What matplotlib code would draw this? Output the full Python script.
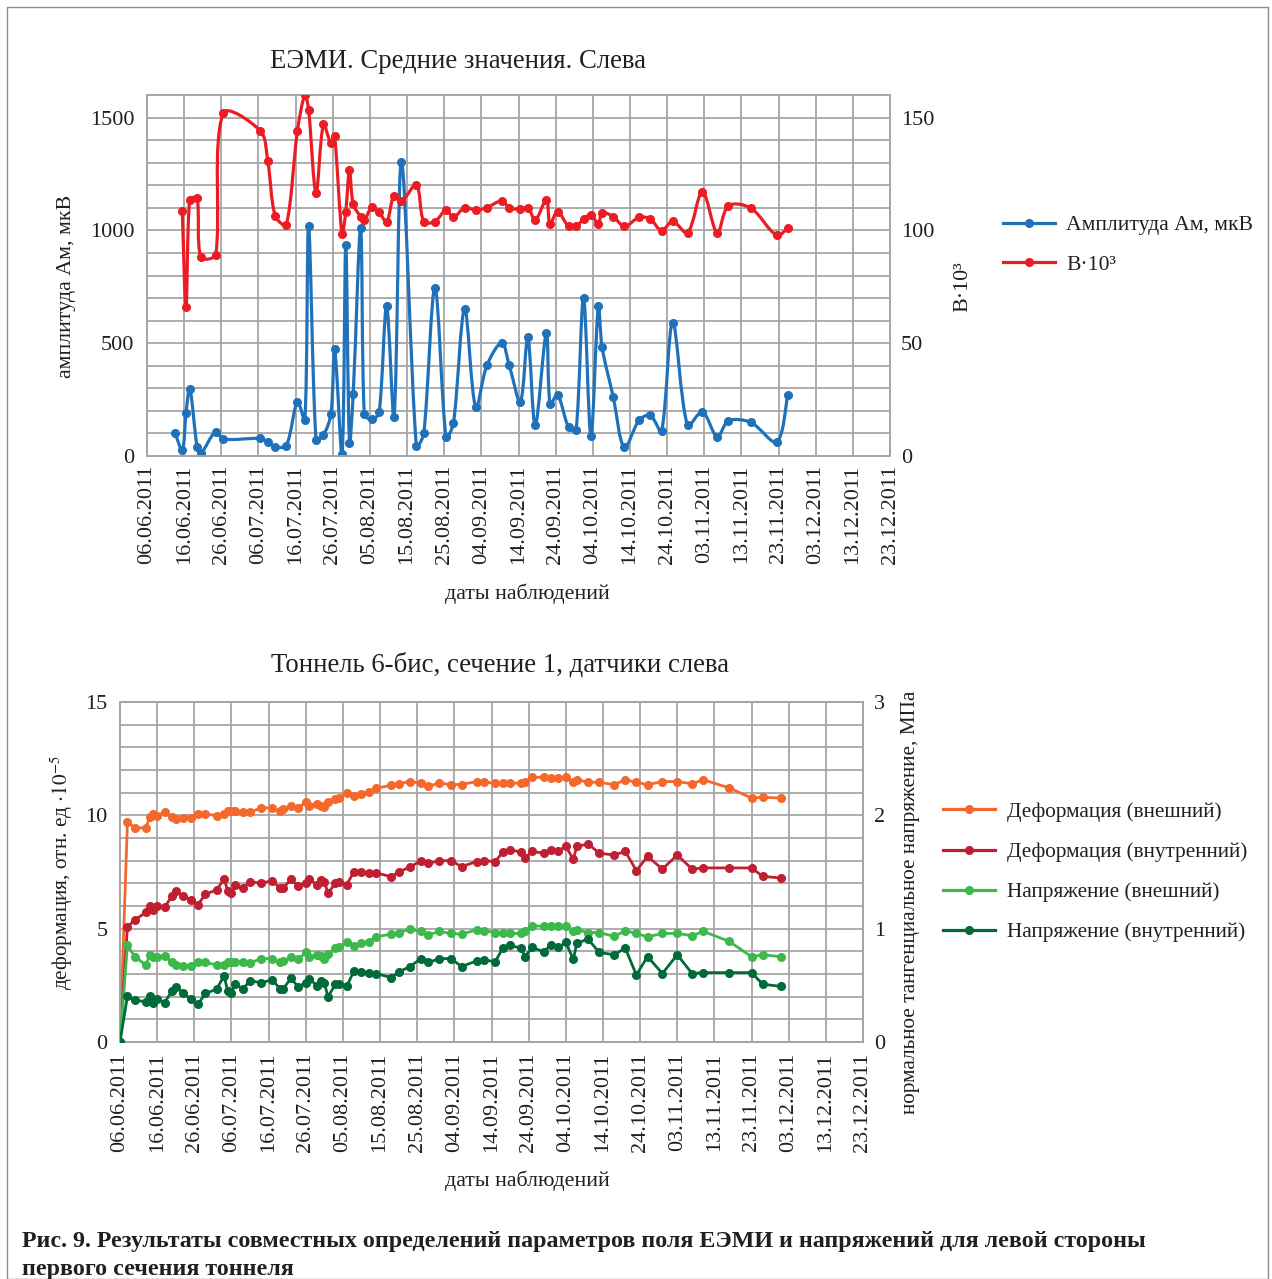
import numpy as np
import pandas as pd
import matplotlib
matplotlib.use('Agg')
import matplotlib.pyplot as plt
import matplotlib.dates as mdates
from matplotlib.path import Path
from matplotlib.patches import PathPatch, Rectangle
from matplotlib.lines import Line2D
from matplotlib.ticker import MultipleLocator, FixedLocator

plt.rcParams['font.family'] = ['Liberation Serif', 'DejaVu Serif']
plt.rcParams['mathtext.fontset'] = 'stix'

# ---------------- data: top chart (EEMI) ----------------
top_dates = ['13.06', '15.06', '16.06', '17.06', '19.06', '20.06', '24.06', '26.06',
             '06.07', '08.07', '10.07', '13.07', '16.07', '18.07', '19.07', '21.07',
             '23.07', '25.07', '26.07', '28.07', '29.07', '30.07', '31.07', '02.08',
             '03.08', '05.08', '07.08', '09.08', '11.08', '13.08', '17.08', '19.08',
             '22.08', '25.08', '27.08', '30.08', '02.09', '05.09', '09.09', '11.09',
             '14.09', '16.09', '18.09', '21.09', '22.09', '24.09', '27.09', '29.09',
             '01.10', '03.10', '05.10', '06.10', '09.10', '12.10', '16.10', '19.10',
             '22.10', '25.10', '29.10', '02.11', '06.11', '09.11', '15.11', '22.11',
             '25.11']
amplitude = [103, 27, 189, 299, 38, 12, 108, 75,
             78, 63, 41, 46, 239, 159, 1018, 71,
             93, 186, 473, 9, 936, 59, 274, 1009,
             186, 162, 194, 663, 174, 1305, 44, 100,
             744, 83, 147, 651, 215, 402, 502, 402,
             240, 527, 136, 547, 230, 270, 127, 115,
             701, 88, 667, 483, 262, 38, 159, 180,
             110, 591, 136, 196, 85, 156, 149, 63,
             270]
b_values = [np.nan, 108.4, 66.0, 113.6, 114.2, 88.1, 89.3, 151.9,
            144.1, 130.8, 106.5, 102.5, 144.1, 160.0, 153.5, 116.7,
            147.0, 138.8, 141.7, 98.3, 108.3, 126.7, 111.7, 106.1,
            104.6, 110.2, 108.0, 103.7, 115.4, 112.9, 120.2, 103.9,
            103.9, 109.0, 105.8, 110.1, 109.0, 110.1, 113.1, 110.1,
            109.3, 110.1, 104.6, 113.6, 102.8, 108.3, 101.8, 101.8,
            105.0, 107.0, 102.8, 107.8, 106.1, 101.8, 105.8, 105.0,
            99.9, 104.0, 98.9, 117.1, 98.9, 110.9, 109.9, 97.8,
            100.9]

# ---------------- data: bottom chart (tunnel) ----------------
bot_dates = ['06.06', '08.06', '10.06', '13.06', '14.06', '15.06', '16.06', '18.06', '20.06', '21.06',
             '23.06', '25.06', '27.06', '29.06', '02.07', '04.07', '05.07', '06.07', '07.07', '09.07',
             '11.07', '14.07', '17.07', '19.07', '20.07', '22.07', '24.07', '26.07', '27.07', '29.07',
             '30.07', '31.07', '01.08', '03.08', '04.08', '06.08', '08.08', '10.08', '12.08', '14.08',
             '18.08', '20.08', '23.08', '26.08', '28.08', '31.08', '03.09', '06.09', '10.09', '12.09',
             '15.09', '17.09', '19.09', '22.09', '23.09', '25.09', '28.09', '30.09', '02.10', '04.10',
             '06.10', '07.10', '10.10', '13.10', '17.10', '20.10', '23.10', '26.10', '30.10', '03.11',
             '07.11', '10.11', '17.11', '23.11', '26.11', '01.12']
deform_ext = [0, 9.70, 9.45, 9.45, 9.92, 10.06, 9.99, 10.14, 9.92, 9.84,
              9.89, 9.89, 10.06, 10.06, 9.99, 10.06, 10.17, 10.17, 10.17, 10.14,
              10.14, 10.33, 10.33, 10.17, 10.26, 10.39, 10.33, 10.58, 10.43, 10.51,
              10.43, 10.36, 10.58, 10.73, 10.77, 10.98, 10.85, 10.95, 11.02, 11.20,
              11.32, 11.39, 11.49, 11.42, 11.29, 11.42, 11.36, 11.36, 11.49, 11.46,
              11.42, 11.42, 11.42, 11.42, 11.49, 11.68, 11.68, 11.66, 11.66, 11.68,
              11.46, 11.57, 11.46, 11.46, 11.35, 11.57, 11.46, 11.35, 11.49, 11.49,
              11.39, 11.57, 11.21, 10.76, 10.80, 10.76]
deform_int = [0, 5.08, 5.39, 5.72, 6.01, 5.84, 6.01, 5.94, 6.45, 6.65,
              6.45, 6.26, 6.06, 6.53, 6.70, 7.19, 6.68, 6.57, 6.94, 6.78,
              7.07, 7.01, 7.12, 6.79, 6.79, 7.19, 6.87, 7.00, 7.19, 6.94,
              7.16, 7.07, 6.57, 7.01, 7.04, 6.94, 7.51, 7.51, 7.46, 7.46,
              7.29, 7.51, 7.71, 8.00, 7.88, 8.00, 8.00, 7.74, 7.96, 8.00,
              7.96, 8.37, 8.49, 8.37, 8.12, 8.41, 8.33, 8.49, 8.44, 8.63,
              8.07, 8.63, 8.74, 8.33, 8.25, 8.41, 7.56, 8.19, 7.63, 8.25,
              7.63, 7.68, 7.68, 7.68, 7.31, 7.23]
stress_ext = [0, 0.854, 0.752, 0.678, 0.770, 0.752, 0.752, 0.760, 0.702, 0.678,
              0.672, 0.672, 0.702, 0.702, 0.680, 0.678, 0.702, 0.704, 0.708, 0.702,
              0.696, 0.736, 0.736, 0.702, 0.716, 0.746, 0.730, 0.790, 0.752, 0.766,
              0.760, 0.736, 0.776, 0.826, 0.834, 0.884, 0.848, 0.872, 0.884, 0.928,
              0.952, 0.966, 0.996, 0.976, 0.946, 0.976, 0.958, 0.952, 0.990, 0.982,
              0.966, 0.958, 0.958, 0.958, 0.982, 1.026, 1.020, 1.020, 1.020, 1.020,
              0.976, 0.990, 0.966, 0.966, 0.932, 0.982, 0.958, 0.928, 0.958, 0.958,
              0.938, 0.976, 0.888, 0.752, 0.770, 0.752]
stress_int = [0, 0.406, 0.368, 0.356, 0.406, 0.348, 0.378, 0.348, 0.450, 0.486,
              0.436, 0.378, 0.334, 0.428, 0.466, 0.584, 0.450, 0.430, 0.516, 0.466,
              0.540, 0.524, 0.548, 0.472, 0.472, 0.562, 0.486, 0.524, 0.560, 0.496,
              0.540, 0.518, 0.400, 0.510, 0.510, 0.490, 0.628, 0.622, 0.608, 0.604,
              0.568, 0.618, 0.664, 0.736, 0.702, 0.736, 0.736, 0.666, 0.716, 0.724,
              0.708, 0.826, 0.854, 0.826, 0.754, 0.834, 0.796, 0.854, 0.834, 0.878,
              0.730, 0.872, 0.908, 0.790, 0.770, 0.828, 0.592, 0.754, 0.604, 0.770,
              0.604, 0.612, 0.612, 0.612, 0.510, 0.490]

axis_start = '06.06.2011'
axis_end = '23.12.2011'

top_title = 'ЕЭМИ. Средние значения. Слева'
bot_title = 'Тоннель 6-бис, сечение 1, датчики слева'
caption1 = 'Рис. 9. Результаты совместных определений параметров поля ЕЭМИ и напряжений для левой стороны'
caption2 = 'первого сечения тоннеля'

# ---------------- styling ----------------
W, H = 1272, 1279
GRID = '#a6a6a6'
C_BLUE = '#1f72ba'
C_RED = '#ec1c24'
C_ORANGE = '#f4682c'
C_DRED = '#c01f32'
C_LGREEN = '#3cb94a'
C_DGREEN = '#006b38'
FS_TICK = 16
FS_LAB = 15.8
FS_LEG = 15.6
TXT = '#231f20'


def to_dt(lst):
    return pd.to_datetime([d + '.2011' for d in lst], format='%d.%m.%Y')


def smooth_path(axes, xs, ys):
    """Excel-like smoothed line: cubic Bezier segments, control points
    weighted by neighbouring chord lengths measured on screen."""
    data = np.column_stack([xs, ys]).astype(float)
    pts = axes.transData.transform(data)
    inv = axes.transData.inverted()
    n = len(pts)
    verts = [pts[0]]
    codes = [Path.MOVETO]

    def dist(a, b):
        return float(np.hypot(*(a - b)))

    for i in range(n - 1):
        p0 = pts[i - 1] if i > 0 else pts[i]
        p1 = pts[i]
        p2 = pts[i + 1]
        p3 = pts[i + 2] if i + 2 < n else pts[i + 1]
        d01, d12, d23 = dist(p0, p1), dist(p1, p2), dist(p2, p3)
        w1 = min(2 * d12 / (d01 + d12), 1.5) if d01 + d12 > 0 else 1.0
        w2 = min(2 * d12 / (d12 + d23), 1.5) if d12 + d23 > 0 else 1.0
        c1 = p1 + (p2 - p0) * w1 / 6.0
        c2 = p2 - (p3 - p1) * w2 / 6.0
        verts += [c1, c2, p2]
        codes += [Path.CURVE4] * 3
    return Path(inv.transform(np.array(verts)), codes)


def fx(px):
    return px / W


def fy(py):
    return 1 - py / H


fig = plt.figure(figsize=(W / 100, H / 100), dpi=100)

x0 = pd.to_datetime(axis_start, format='%d.%m.%Y')
x1 = pd.to_datetime(axis_end, format='%d.%m.%Y')
xticks = pd.date_range(x0, x1, freq='10D')


def style_axes(ax, ax2, ylim, ymaj, ymin, ylim2, ymaj2, xpad):
    ax.set_xlim(mdates.date2num(x0), mdates.date2num(x1))
    ax.xaxis.set_major_locator(FixedLocator(mdates.date2num(xticks)))
    ax.xaxis.set_major_formatter(mdates.DateFormatter('%d.%m.%Y'))
    ax.set_ylim(*ylim)
    ax.yaxis.set_major_locator(MultipleLocator(ymaj))
    ax.yaxis.set_minor_locator(MultipleLocator(ymin))
    ax.grid(True, which='both', color=GRID, lw=1.3)
    ax.set_axisbelow(True)
    ax.tick_params(axis='x', length=0, pad=xpad, labelsize=FS_TICK, rotation=90, colors=TXT)
    ax.tick_params(axis='y', which='both', length=0, pad=9, labelsize=FS_TICK, colors=TXT)
    ax2.set_ylim(*ylim2)
    ax2.yaxis.set_major_locator(MultipleLocator(ymaj2))
    ax2.tick_params(axis='y', length=0, pad=8, labelsize=FS_TICK, colors=TXT)
    for a in (ax, ax2):
        for s in a.spines.values():
            s.set_color(GRID)
            s.set_linewidth(1.3)


# ---------------- top chart ----------------
ax = fig.add_axes([fx(147), fy(456), fx(890 - 147), (456 - 95) / H])
ax2 = ax.twinx()
style_axes(ax, ax2, (0, 1600), 500, 100, (0, 160), 50, 6)

tx = mdates.date2num(to_dt(top_dates)) + 0.5
amp = np.array(amplitude, float)
bv = np.array(b_values, float)
mask = ~np.isnan(bv)

ax.add_patch(PathPatch(smooth_path(ax, tx, amp), fill=False, edgecolor=C_BLUE, lw=2.3,
                       joinstyle='round', capstyle='round', zorder=3))
ax.plot(tx, amp, 'o', color=C_BLUE, ms=5.5, zorder=4)
ax2.add_patch(PathPatch(smooth_path(ax2, tx[mask], bv[mask]), fill=False, edgecolor=C_RED,
                        lw=2.3, joinstyle='round', capstyle='round', zorder=3))
ax2.plot(tx[mask], bv[mask], 'o', color=C_RED, ms=5.5, zorder=4)

fig.text(fx(458), fy(61), top_title, ha='center', va='center', fontsize=19.3, color=TXT)
fig.text(fx(66), fy(286), 'амплитуда Ам, мкВ', rotation=90, ha='center', va='center',
         fontsize=FS_LAB, color=TXT)
fig.text(fx(963), fy(287), 'B·10³', rotation=90, ha='center', va='center', fontsize=FS_LAB,
         color=TXT)
fig.text(fx(527), fy(594), 'даты наблюдений', ha='center', va='center', fontsize=FS_LAB,
         color=TXT)

h_top = [Line2D([], [], color=C_BLUE, lw=2.3, marker='o', ms=5.5),
         Line2D([], [], color=C_RED, lw=2.3, marker='o', ms=5.5)]
fig.legend(h_top, ['Амплитуда Ам, мкВ', 'B·10³'], loc='upper left',
           bbox_to_anchor=(fx(1003), fy(215)), frameon=False, fontsize=FS_LEG,
           handlelength=2.4, handletextpad=0.5, labelspacing=0.9,
           borderpad=0, borderaxespad=0, labelcolor=TXT)

# ---------------- bottom chart ----------------
bx = fig.add_axes([fx(120), fy(1042), fx(863 - 120), (1042 - 702) / H])
bx2 = bx.twinx()
style_axes(bx, bx2, (0, 15), 5, 1, (0, 3), 1, 8)

bd = mdates.date2num(to_dt(bot_dates))
bx.plot(bd, deform_ext, '-o', color=C_ORANGE, lw=2.0, ms=5.5, zorder=3)
bx.plot(bd, deform_int, '-o', color=C_DRED, lw=2.0, ms=5.5, zorder=3)
bx2.plot(bd, stress_ext, '-o', color=C_LGREEN, lw=2.0, ms=5.5, zorder=3)
bx2.plot(bd, stress_int, '-o', color=C_DGREEN, lw=2.0, ms=5.5, zorder=3)

fig.text(fx(500), fy(665), bot_title, ha='center', va='center', fontsize=19.3, color=TXT)
fig.text(fx(62), fy(872), 'деформация, отн. ед $\\cdot 10^{-5}$', rotation=90, ha='center',
         va='center', fontsize=15.3, color=TXT)
fig.text(fx(910), fy(902), 'нормальное тангенциальное напряжение, МПа', rotation=90,
         ha='center', va='center', fontsize=15.3, color=TXT)
fig.text(fx(527), fy(1181), 'даты наблюдений', ha='center', va='center', fontsize=FS_LAB,
         color=TXT)

h_bot = [Line2D([], [], color=c, lw=2.3, marker='o', ms=5.5)
         for c in (C_ORANGE, C_DRED, C_LGREEN, C_DGREEN)]
fig.legend(h_bot, ['Деформация (внешний)', 'Деформация (внутренний)',
                   'Напряжение (внешний)', 'Напряжение (внутренний)'],
           loc='upper left', bbox_to_anchor=(fx(943), fy(802)), frameon=False,
           fontsize=15.3, handlelength=2.45, handletextpad=0.58, labelspacing=0.95,
           borderpad=0, borderaxespad=0, labelcolor=TXT)

# ---------------- caption & frame ----------------
fig.text(fx(22), fy(1241), caption1, ha='left', va='center', fontsize=17.3,
         fontweight='bold', color=TXT)
fig.text(fx(22), fy(1269), caption2, ha='left', va='center', fontsize=17.3,
         fontweight='bold', color=TXT)
fig.add_artist(Rectangle((fx(7), fy(1279)), fx(1268 - 7), (1279 - 7) / H,
                         transform=fig.transFigure, fill=False, edgecolor='#8c8c8c', lw=1.0))

fig.savefig('out.png', dpi=100)
